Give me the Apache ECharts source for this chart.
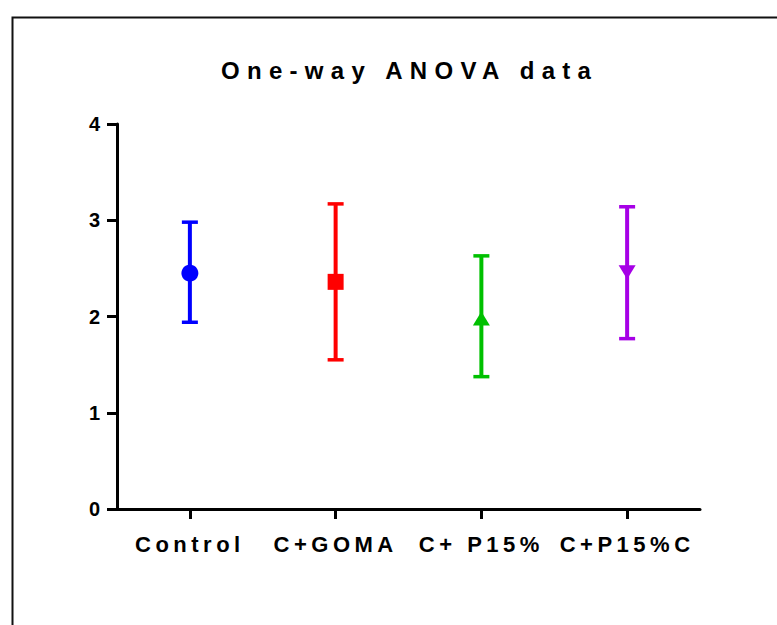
<!DOCTYPE html>
<html><head><meta charset="utf-8">
<script src="https://cdn.jsdelivr.net/npm/echarts@6/dist/echarts.min.js"></script>
<style>
html,body{margin:0;padding:0;background:#fff;}
#c{width:777px;height:625px;}
#c text[style*="24px"]{letter-spacing:7.3px;}
#c text[style*="22px"]{letter-spacing:4.5px;}
</style></head><body><div id="c"></div>
<script>
const title = 'One-way ANOVA data';
const categories = ['Control', 'C+GOMA', 'C+ P15%', 'C+P15%C'];
const means = [2.45, 2.36, 1.98, 2.46];
const lowers = [1.94, 1.55, 1.375, 1.77];
const uppers = [2.98, 3.17, 2.63, 3.14];
const colors = ['#0000FF', '#FF0000', '#00C000', '#A600E6'];
const symbols = ['circle', 'rect', 'triangle', 'triangle'];
const symbolSizes = [17, 16, [17, 14], [17, 14]];
const symbolRotations = [0, 0, 0, 180];
const yMin = 0, yMax = 4, yStep = 1;

const chart = echarts.init(document.getElementById('c'), null, {renderer: 'svg'});
const font = 'Liberation Sans, Arial, sans-serif';

chart.setOption({
  animation: false,
  backgroundColor: '#fff',
  title: {
    text: title, left: 216, top: 53,
    textStyle: {fontFamily: font, fontWeight: 'bold', fontSize: 24, color: '#000'}
  },
  graphic: [{
    type: 'rect', left: 10, top: 15, silent: true,
    shape: {x: 0, y: 0, width: 900, height: 900},
    style: {fill: 'none', stroke: '#111', lineWidth: 2}
  }],
  grid: {left: 117, right: 77, top: 124, bottom: 116, containLabel: false},
  xAxis: {
    type: 'category', data: categories, boundaryGap: true,
    axisLine: {show: true, lineStyle: {color: '#000', width: 3}},
    axisTick: {show: true, alignWithLabel: true, length: 10, lineStyle: {color: '#000', width: 3}},
    axisLabel: {margin: 24, fontFamily: font, fontWeight: 'bold', fontSize: 22, color: '#000', interval: 0},
    splitLine: {show: false}
  },
  yAxis: {
    type: 'value', min: yMin, max: yMax, interval: yStep,
    axisLine: {show: true, lineStyle: {color: '#000', width: 3}},
    axisTick: {show: true, length: 10, lineStyle: {color: '#000', width: 3}},
    axisLabel: {margin: 17, fontFamily: font, fontWeight: 'bold', fontSize: 20, color: '#000'},
    splitLine: {show: false}
  },
  series: [
    {
      type: 'custom',
      data: categories.map((c, i) => [i, lowers[i], uppers[i]]),
      renderItem: function (params, api) {
        const i = api.value(0);
        const lo = api.coord([i, api.value(1)]);
        const hi = api.coord([i, api.value(2)]);
        const col = colors[params.dataIndex];
        const hw = 8;
        const st = {stroke: col, lineWidth: 4};
        const cap = {stroke: col, lineWidth: 3.5};
        return {
          type: 'group',
          children: [
            {type: 'line', shape: {x1: lo[0], y1: lo[1], x2: hi[0], y2: hi[1]}, style: st},
            {type: 'line', shape: {x1: lo[0] - hw, y1: lo[1], x2: lo[0] + hw, y2: lo[1]}, style: cap},
            {type: 'line', shape: {x1: hi[0] - hw, y1: hi[1], x2: hi[0] + hw, y2: hi[1]}, style: cap}
          ]
        };
      },
      z: 2
    },
    {
      type: 'scatter',
      data: categories.map((c, i) => ({
        value: [i, means[i]],
        symbol: symbols[i],
        symbolSize: symbolSizes[i],
        symbolRotate: symbolRotations[i],
        itemStyle: {color: colors[i], opacity: 1}
      })),
      z: 3
    }
  ]
});
</script></body></html>
